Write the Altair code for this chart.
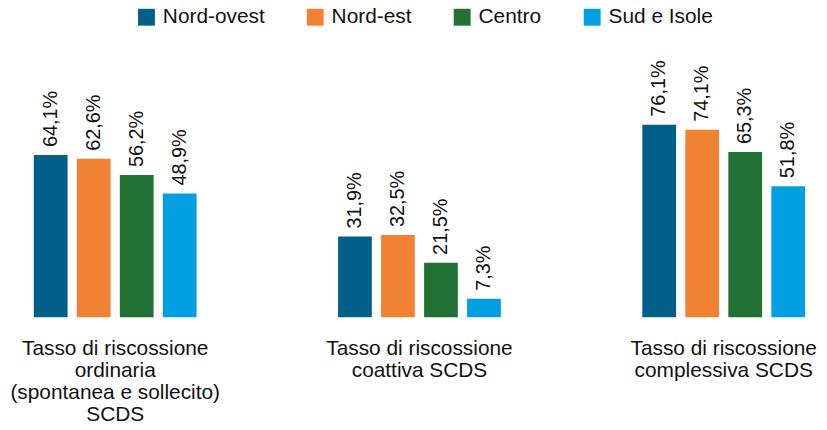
import altair as alt
import pandas as pd

categories = [
    "Tasso di riscossione\nordinaria\n(spontanea e sollecito)\nSCDS",
    "Tasso di riscossione\ncoattiva SCDS",
    "Tasso di riscossione\ncomplessiva SCDS",
]
regions = ["Nord-ovest", "Nord-est", "Centro", "Sud e Isole"]
colors = ["#00608A", "#F08233", "#237235", "#00A0E3"]

nord_ovest = [64.1, 31.9, 76.1]
nord_est = [62.6, 32.5, 74.1]
centro = [56.2, 21.5, 65.3]
sud_isole = [48.9, 7.3, 51.8]

series = [nord_ovest, nord_est, centro, sud_isole]
rows = []
for reg, vals in zip(regions, series):
    for cat, v in zip(categories, vals):
        rows.append({"category": cat, "region": reg, "value": v})
df = pd.DataFrame(rows)

FONT = "Liberation Sans"

base = alt.Chart(df).encode(
    x=alt.X(
        "category:N",
        sort=categories,
        title=None,
        scale=alt.Scale(paddingInner=0.465, paddingOuter=0.0457),
        axis=alt.Axis(
            domain=False,
            ticks=False,
            tickSize=0,
            grid=False,
            labelAngle=0,
            labelPadding=21,
            labelFontSize=21,
            labelFont=FONT,
            labelColor="#111111",
            labelLimit=400,
            labelLineHeight=22,
            labelOverlap=False,
            labelBaseline="top",
            labelExpr="split(datum.label, '\\n')",
        ),
    ),
    xOffset=alt.XOffset("region:N", sort=regions, scale=alt.Scale(paddingInner=0.215)),
    y=alt.Y("value:Q", scale=alt.Scale(domain=[0, 100]), axis=None),
)

bars = base.mark_bar().encode(
    color=alt.Color(
        "region:N",
        sort=regions,
        scale=alt.Scale(domain=regions, range=colors),
        legend=alt.Legend(
            title=None,
            orient="none",
            direction="horizontal",
            columns=4,
            legendX=117,
            legendY=-58,
            symbolType="square",
            symbolSize=289,
            symbolStrokeWidth=0,
            symbolOpacity=1,
            labelFontSize=21,
            labelFont=FONT,
            labelColor="#111111",
            labelLimit=300,
            labelOffset=6,
            columnPadding=40,
            padding=0,
        ),
    )
)

labels = base.mark_text(
    angle=270, align="left", baseline="middle", dx=8, fontSize=20, font=FONT, color="#111111"
).transform_calculate(
    label="replace(format(datum.value, '.1f'), '.', ',') + '%'"
).encode(text="label:N")

chart = (
    alt.layer(bars, labels)
    .properties(
        width=805,
        height=255,
        background="white",
        autosize=alt.AutoSizeParams(type="none"),
        padding={"left": 12, "top": 55, "right": 0, "bottom": 108},
    )
    .configure_view(strokeWidth=0, stroke="transparent")
)

chart.save("out.html", embed_options={"renderer": "svg", "actions": False})
